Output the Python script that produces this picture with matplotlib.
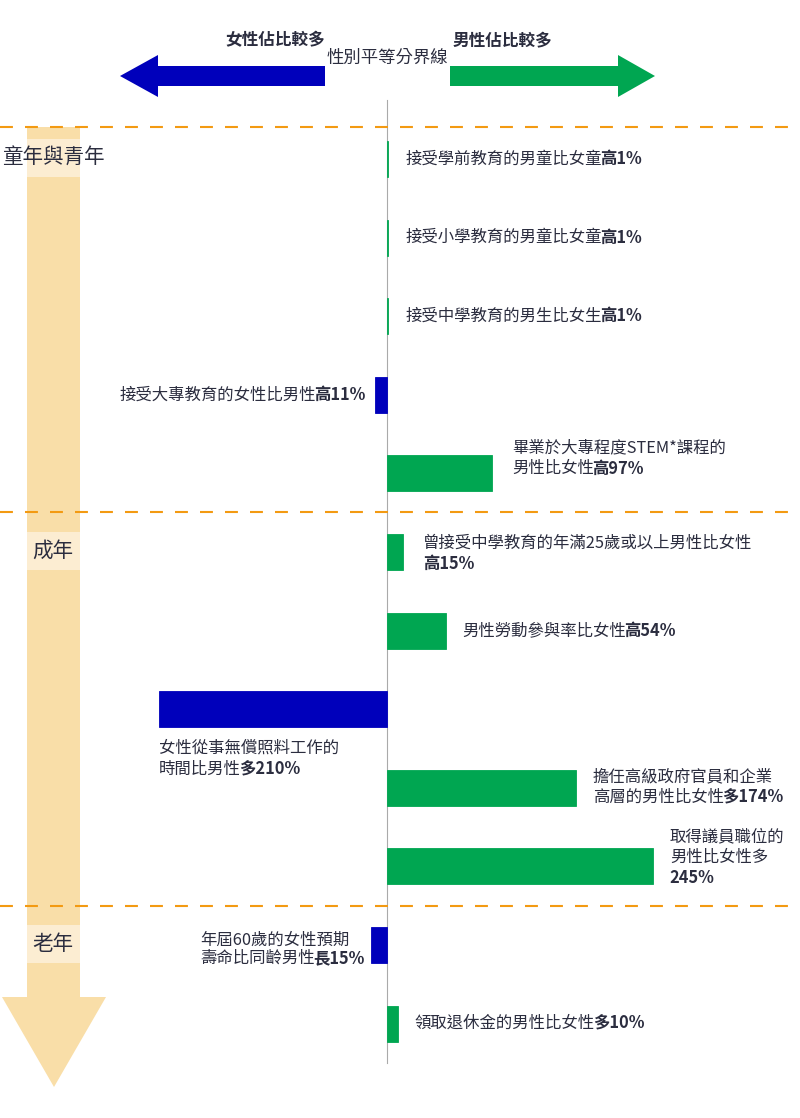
import matplotlib.pyplot as plt
from matplotlib.patches import Polygon, Rectangle
from matplotlib import font_manager

plt.rcParams['font.family'] = ['Noto Sans CJK TC', 'DejaVu Sans']

# data: percentage gap (positive = more men, negative = more women)
values = [1, 1, 1, -11, 97, 15, 54, -210, 174, 245, -15, 10]
# label lines as (regular part, bold part)
labels = [
    [("接受學前教育的男童比女童", "高1%")],
    [("接受小學教育的男童比女童", "高1%")],
    [("接受中學教育的男生比女生", "高1%")],
    [("接受大專教育的女性比男性", "高11%")],
    [("畢業於大專程度STEM*課程的", ""), ("男性比女性", "高97%")],
    [("曾接受中學教育的年滿25歲或以上男性比女性", ""), ("", "高15%")],
    [("男性勞動參與率比女性", "高54%")],
    [("女性從事無償照料工作的", ""), ("時間比男性", "多210%")],
    [("擔任高級政府官員和企業", ""), ("高層的男性比女性", "多174%")],
    [("取得議員職位的", ""), ("男性比女性多", ""), ("", "245%")],
    [("年屆60歲的女性預期", ""), ("壽命比同齡男性", "長15%")],
    [("領取退休金的男性比女性", "多10%")],
]
stages = ["童年與青年", "成年", "老年"]
stage_rows = [0, 5, 10]
stage_breaks = [-0.41, 4.49, 9.5]

BLUE = '#0000BB'
GREEN = '#00A651'
TEXT = '#2B2D3F'
ORANGE = '#F39A12'
BEIGE = '#F9DEA8'
BEIGE_LT = '#FCEDD2'
FS = 11.8
TIGHT = 2  # px pulled in between regular and bold parts

W, H = 800, 1118
fig = plt.figure(figsize=(W / 100, H / 100), dpi=100)


def advance(s, weight):
    # width of a string in pixels using glyph advances
    path = font_manager.findfont(font_manager.FontProperties(
        family='Noto Sans CJK TC', weight=weight))
    font = font_manager.get_font(path)
    font.set_size(FS, 100)
    return sum(font.load_char(ord(c)).linearHoriAdvance / 65536 for c in s)


# decoration layer in pixel coordinates
deco = fig.add_axes([0, 0, 1, 1], zorder=0)
deco.set_xlim(0, W)
deco.set_ylim(H, 0)
deco.axis('off')

# main layer: x in percent, y in row index
center_px, px_pct = 387, 1.085
row0_px, row_px = 159, 78.6
ax = fig.add_axes([0, 0, 1, 1], zorder=1)
ax.patch.set_alpha(0)
ax.set_xlim(-center_px / px_pct, (W - center_px) / px_pct)
ax.set_ylim((H - row0_px) / row_px, -row0_px / row_px)
ax.axis('off')

# big down arrow for life stages
deco.add_patch(Polygon([(27, 127), (80, 127), (80, 997), (106, 997), (54, 1087),
                        (2, 997), (27, 997)], closed=True, color=BEIGE, lw=0))

# top direction arrows
deco.add_patch(Polygon([(120, 76), (158, 55), (158, 66), (325, 66), (325, 86),
                        (158, 86), (158, 97)], closed=True, color=BLUE, lw=0))
deco.add_patch(Polygon([(655, 76), (618, 55), (618, 66), (450, 66), (450, 86),
                        (618, 86), (618, 97)], closed=True, color=GREEN, lw=0))
deco.text(275, 40, "女性佔比較多", ha='center', va='center', fontsize=12,
          weight='bold', color=TEXT)
deco.text(502, 40, "男性佔比較多", ha='center', va='center', fontsize=12,
          weight='bold', color=TEXT)
deco.text(387, 58, "性別平等分界線", ha='center', va='center', fontsize=12.5,
          color=TEXT, zorder=3)

# equality line
ax.plot([0, 0], [-0.75, 11.5], color='#AAAAAA', lw=0.8, zorder=1)

# stage dividers and labels
for b in stage_breaks:
    ax.axhline(b, color=ORANGE, lw=1.5, linestyle=(0, (6.2, 5.8)), zorder=2)
for name, r in zip(stages, stage_rows):
    y = (r - 0.015) * row_px + row0_px
    deco.add_patch(Rectangle((27, y - 19), 53, 38, color=BEIGE_LT, lw=0))
    deco.text(53, y, name, ha='center', va='center', fontsize=14.8, color=TEXT)

rows = list(range(len(values)))
colors = [GREEN if v > 0 else BLUE for v in values]
ax.barh(rows, values, height=0.46, color=colors, edgecolor=colors,
        linewidth=0.6, zorder=3)

LINE = 21  # px between label lines


def put_line(xy, dx, dy, reg, bold, ha):
    kw = dict(fontsize=FS, color=TEXT, va='center', textcoords='offset pixels')
    if ha == 'left':
        if reg:
            ax.annotate(reg, xy, xytext=(dx, dy), ha='left', **kw)
        if bold:
            shift = advance(reg, 'normal') - TIGHT if reg else 0
            ax.annotate(bold, xy, xytext=(dx + shift, dy),
                        ha='left', weight='bold', **kw)
        return
    ax.annotate(bold, xy, xytext=(dx, dy), ha='right', weight='bold', **kw)
    ax.annotate(reg, xy, xytext=(dx - advance(bold, 'bold') + TIGHT, dy),
                ha='right', **kw)


# label placement: (dx px from bar end, dy px of first line)
place = {4: (20, 26), 5: (20, 9), 8: (17, 11), 9: (17, 30)}
for i, (v, lines) in enumerate(zip(values, labels)):
    if i == 7:
        for k, (reg, bold) in enumerate(lines):
            put_line((v, i), 0, -39 - k * LINE, reg, bold, 'left')
        continue
    if i == 10:
        # block sits left of the bar, lines left-aligned
        w2 = advance(lines[1][0], 'normal') + advance(lines[1][1], 'bold') - TIGHT
        for k, (reg, bold) in enumerate(lines):
            put_line((v, i), -6 - w2, 5 - k * 18, reg, bold, 'left')
        continue
    if v < 0:
        put_line((v, i), -10, 0, lines[0][0], lines[0][1], 'right')
        continue
    dx, dy = place.get(i, (17, 0))
    for k, (reg, bold) in enumerate(lines):
        put_line((v, i), dx, dy - k * LINE, reg, bold, 'left')

fig.savefig('out.png', dpi=100)
